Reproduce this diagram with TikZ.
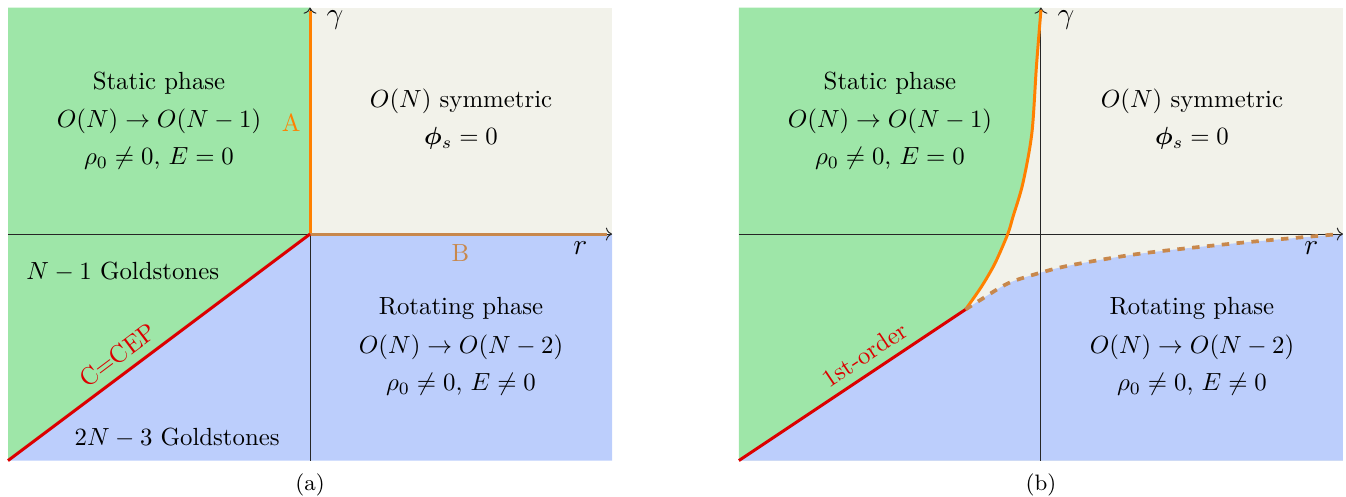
\documentclass[tikz,border=0pt]{standalone}
\usepackage{bm}
\usetikzlibrary{arrows.meta}

\begin{document}
\begin{tikzpicture}[
  x=1.07cm,y=1.07cm,
  >=To,
  axis/.style={->,black!85,thin},
  crit/.style={line width=1.2pt,#1},
  axlab/.style={font=\large},
  subcap/.style={font=\small}]

  \definecolor{statc}{RGB}{158,230,168}
  \definecolor{symc}{RGB}{242,242,234}
  \definecolor{rotc}{RGB}{188,206,252}
  \definecolor{lineA}{RGB}{255,128,0}
  \definecolor{lineB}{RGB}{200,136,76}
  \definecolor{lineC}{RGB}{220,0,0}

  \useasboundingbox (-4.106,-3.47) rectangle (13.72,3.10);

  % ---- (a): straight boundaries ----
  \fill[symc] (0,0) rectangle (4,3);
  \fill[statc] (-4,-3) -- (0,0) -- (0,3) -- (-4,3) -- cycle;
  \fill[rotc] (-4,-3) -- (0,0) -- (4,0) -- (4,-3) -- cycle;

  \draw[axis] (-4,0) -- (4,0);
  \draw[axis] (0,-3) -- (0,3);
  \node[axlab] (ra) at (3.58,-0.19) {$r$};
  \node[axlab] (ga) at (0.33,2.84) {$\gamma$};

  \draw[crit=lineA] (0,0) -- (0,2.95);
  \draw[crit=lineB] (0,0) -- (3.93,0);
  \draw[crit=lineC] (-4,-3) -- (0,0)
    node[sloped,above,pos=0.4,text=lineC] (laba) {C=CEP};
  \node[text=lineA] (labA) at (-0.25,1.48) {A};
  \node[text=lineB] (labB) at (1.99,-0.25) {B};

  \node (sta1) at (-2,2.0) {Static phase};
  \node (sta2) at (-2,1.49) {$O(N)\to O(N-1)$};
  \node (sta3) at (-2,1.0) {$\rho_0\neq 0$, $E=0$};
  \node (sym1) at (2,1.76) {$O(N)$ symmetric};
  \node (sym2) at (2,1.27) {$\bm{\phi}_s=0$};
  \node (gol1) at (-2.48,-0.5) {$N-1$ Goldstones};
  \node (gol2) at (-1.76,-2.70) {$2N-3$ Goldstones};
  \node (rot1) at (2,-0.98) {Rotating phase};
  \node (rot2) at (2,-1.5) {$O(N)\to O(N-2)$};
  \node (rot3) at (2,-1.99) {$\rho_0\neq 0$, $E\neq 0$};

  \node[subcap] (capa) at (0,-3.325) {(a)};

  % ---- (b): curved boundaries ----
  \begin{scope}[shift={(9.68,0)}]
    \fill[symc] (-4,-3) rectangle (4,3);
    \fill[rotc] (-4,-3) -- plot[smooth] coordinates {(-1,-1) (-0.79,-0.865)
      (-0.43,-0.65) (0,-0.51) (0.41,-0.41) (1.31,-0.26) (2.6,-0.12) (4,0)}
      -- (4,-3) -- cycle;
    \fill[statc] (-4,-3) -- plot[smooth] coordinates {(-1,-1) (-0.79,-0.70)
      (-0.61,-0.39) (-0.44,0) (-0.37,0.23) (-0.24,0.67) (-0.12,1.34)
      (-0.06,2.22) (0,3)} -- (-4,3) -- cycle;

    \draw[axis] (-4,0) -- (4,0);
    \draw[axis] (0,-3) -- (0,3);
    \node[axlab] (rb) at (3.58,-0.19) {$r$};
    \node[axlab] (gb) at (0.33,2.84) {$\gamma$};

    \draw[crit=lineA] plot[smooth] coordinates {(-1,-1) (-0.79,-0.70)
      (-0.61,-0.39) (-0.44,0) (-0.37,0.23) (-0.24,0.67) (-0.12,1.34)
      (-0.06,2.22) (0,2.97)};
    \draw[crit=lineB,line width=1.5pt,dashed] plot[smooth] coordinates {(-1,-1)
      (-0.79,-0.865) (-0.43,-0.65) (0,-0.51) (0.41,-0.41) (1.31,-0.26)
      (2.6,-0.12) (3.95,0)};
    \draw[crit=lineC] (-4,-3) -- (-1,-1)
      node[sloped,above,pos=0.6,text=lineC] (labb) {1st-order};

    \node (stb1) at (-2,2.0) {Static phase};
    \node (stb2) at (-2,1.49) {$O(N)\to O(N-1)$};
    \node (stb3) at (-2,1.0) {$\rho_0\neq 0$, $E=0$};
    \node (syb1) at (2,1.76) {$O(N)$ symmetric};
    \node (syb2) at (2,1.27) {$\bm{\phi}_s=0$};
    \node (rob1) at (2,-0.98) {Rotating phase};
    \node (rob2) at (2,-1.5) {$O(N)\to O(N-2)$};
    \node (rob3) at (2,-1.99) {$\rho_0\neq 0$, $E\neq 0$};

    \node[subcap] (capb) at (0,-3.325) {(b)};
  \end{scope}
\end{tikzpicture}
\end{document}
